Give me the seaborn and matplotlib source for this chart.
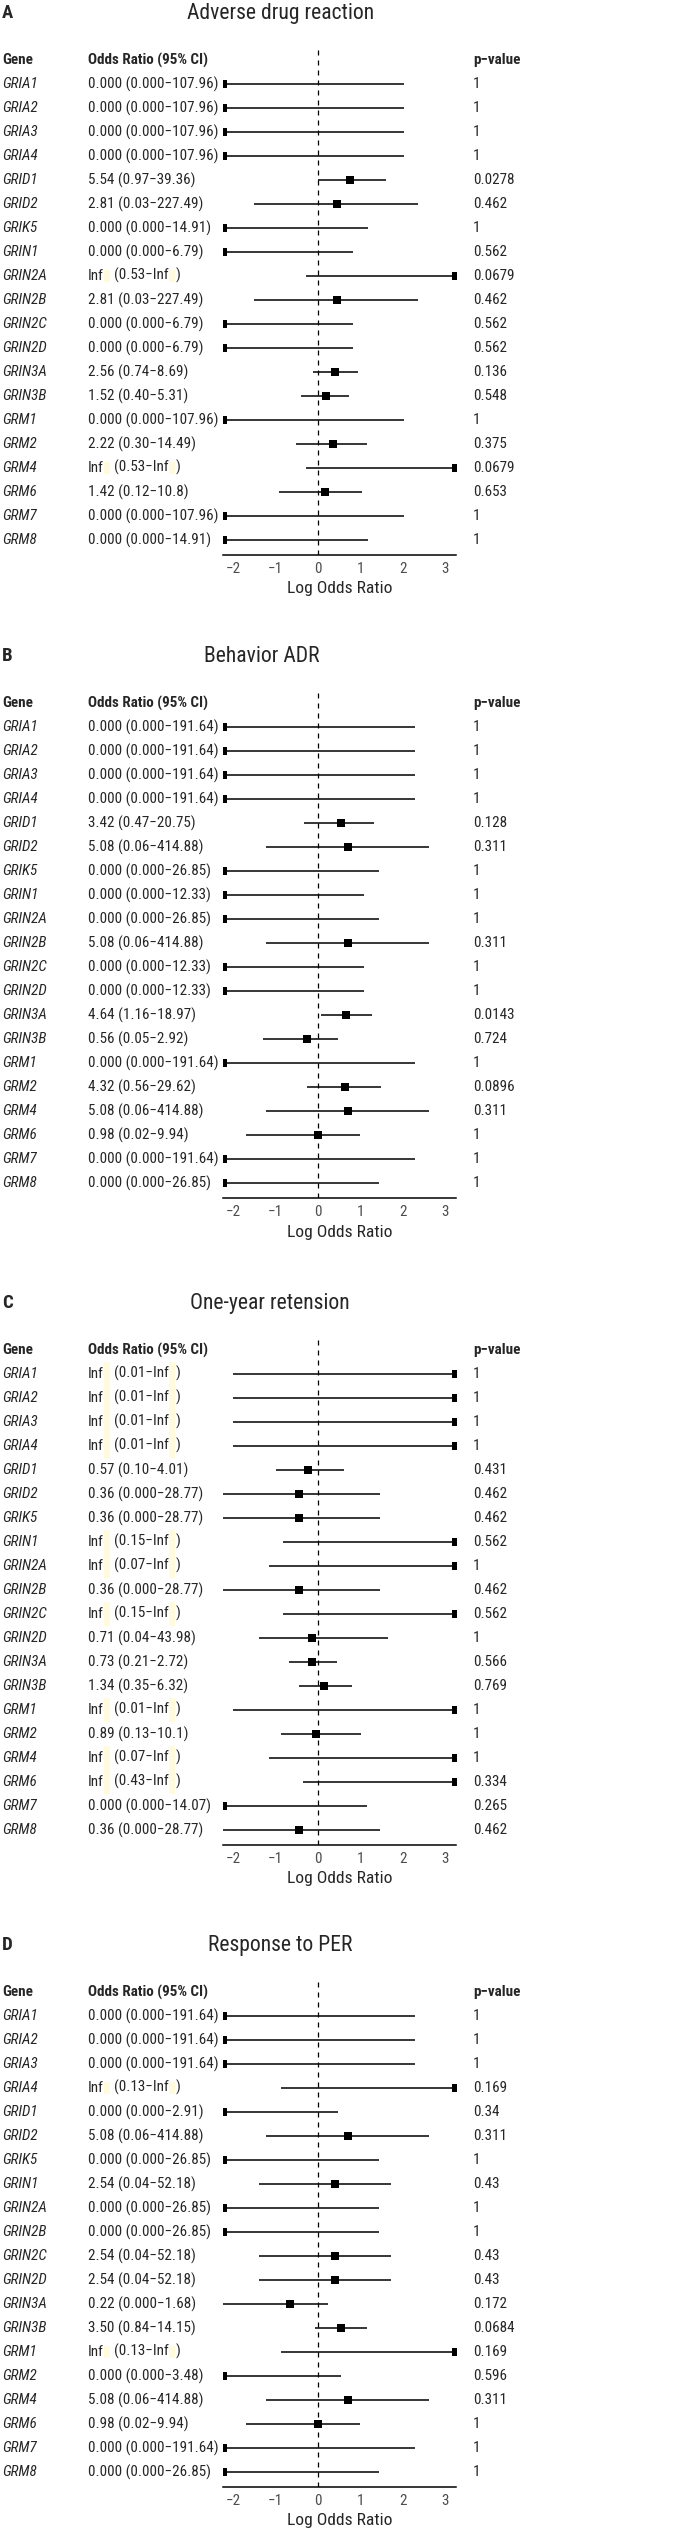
"""
Forest plots of glutamate receptor gene associations (four outcomes stacked).
"""

import matplotlib

matplotlib.use("Agg")
import matplotlib.pyplot as plt
import matplotlib.transforms as mtransforms
from matplotlib.patches import Rectangle
import numpy as np
import pandas as pd
import seaborn as sns


GENES = [
    "GRIA1", "GRIA2", "GRIA3", "GRIA4", "GRID1", "GRID2", "GRIK5", "GRIN1", "GRIN2A", "GRIN2B",
    "GRIN2C", "GRIN2D", "GRIN3A", "GRIN3B", "GRM1", "GRM2", "GRM4", "GRM6", "GRM7", "GRM8",
]

# A: adverse drug reaction
ADR_OR = ["0.000", "0.000", "0.000", "0.000", "5.54", "2.81", "0.000", "0.000", "Inf", "2.81",
          "0.000", "0.000", "2.56", "1.52", "0.000", "2.22", "Inf", "1.42", "0.000", "0.000"]
ADR_LOW = ["0.000", "0.000", "0.000", "0.000", "0.97", "0.03", "0.000", "0.000", "0.53", "0.03",
           "0.000", "0.000", "0.74", "0.40", "0.000", "0.30", "0.53", "0.12", "0.000", "0.000"]
ADR_HIGH = ["107.96", "107.96", "107.96", "107.96", "39.36", "227.49", "14.91", "6.79", "Inf", "227.49",
            "6.79", "6.79", "8.69", "5.31", "107.96", "14.49", "Inf", "10.8", "107.96", "14.91"]
ADR_P = ["1", "1", "1", "1", "0.0278", "0.462", "1", "0.562", "0.0679", "0.462",
         "0.562", "0.562", "0.136", "0.548", "1", "0.375", "0.0679", "0.653", "1", "1"]

# B: behavior ADR
BEH_OR = ["0.000", "0.000", "0.000", "0.000", "3.42", "5.08", "0.000", "0.000", "0.000", "5.08",
          "0.000", "0.000", "4.64", "0.56", "0.000", "4.32", "5.08", "0.98", "0.000", "0.000"]
BEH_LOW = ["0.000", "0.000", "0.000", "0.000", "0.47", "0.06", "0.000", "0.000", "0.000", "0.06",
           "0.000", "0.000", "1.16", "0.05", "0.000", "0.56", "0.06", "0.02", "0.000", "0.000"]
BEH_HIGH = ["191.64", "191.64", "191.64", "191.64", "20.75", "414.88", "26.85", "12.33", "26.85", "414.88",
            "12.33", "12.33", "18.97", "2.92", "191.64", "29.62", "414.88", "9.94", "191.64", "26.85"]
BEH_P = ["1", "1", "1", "1", "0.128", "0.311", "1", "1", "1", "0.311",
         "1", "1", "0.0143", "0.724", "1", "0.0896", "0.311", "1", "1", "1"]

# C: one-year retension
RET_OR = ["Inf", "Inf", "Inf", "Inf", "0.57", "0.36", "0.36", "Inf", "Inf", "0.36",
          "Inf", "0.71", "0.73", "1.34", "Inf", "0.89", "Inf", "Inf", "0.000", "0.36"]
RET_LOW = ["0.01", "0.01", "0.01", "0.01", "0.10", "0.000", "0.000", "0.15", "0.07", "0.000",
           "0.15", "0.04", "0.21", "0.35", "0.01", "0.13", "0.07", "0.43", "0.000", "0.000"]
RET_HIGH = ["Inf", "Inf", "Inf", "Inf", "4.01", "28.77", "28.77", "Inf", "Inf", "28.77",
            "Inf", "43.98", "2.72", "6.32", "Inf", "10.1", "Inf", "Inf", "14.07", "28.77"]
RET_P = ["1", "1", "1", "1", "0.431", "0.462", "0.462", "0.562", "1", "0.462",
         "0.562", "1", "0.566", "0.769", "1", "1", "1", "0.334", "0.265", "0.462"]

# D: response to PER
PER_OR = ["0.000", "0.000", "0.000", "Inf", "0.000", "5.08", "0.000", "2.54", "0.000", "0.000",
          "2.54", "2.54", "0.22", "3.50", "Inf", "0.000", "5.08", "0.98", "0.000", "0.000"]
PER_LOW = ["0.000", "0.000", "0.000", "0.13", "0.000", "0.06", "0.000", "0.04", "0.000", "0.000",
           "0.04", "0.04", "0.000", "0.84", "0.13", "0.000", "0.06", "0.02", "0.000", "0.000"]
PER_HIGH = ["191.64", "191.64", "191.64", "Inf", "2.91", "414.88", "26.85", "52.18", "26.85", "26.85",
            "52.18", "52.18", "1.68", "14.15", "Inf", "3.48", "414.88", "9.94", "191.64", "26.85"]
PER_P = ["1", "1", "1", "0.169", "0.34", "0.311", "1", "0.43", "1", "1",
         "0.43", "0.43", "0.172", "0.0684", "0.169", "0.596", "0.311", "1", "1", "1"]

PANELS = [
    ("A", "Adverse drug reaction", ADR_OR, ADR_LOW, ADR_HIGH, ADR_P),
    ("B", "Behavior ADR", BEH_OR, BEH_LOW, BEH_HIGH, BEH_P),
    ("C", "One-year retension", RET_OR, RET_LOW, RET_HIGH, RET_P),
    ("D", "Response to PER", PER_OR, PER_LOW, PER_HIGH, PER_P),
]

# layout, in pixels of the 676x2532 output
FIG_W, FIG_H = 676, 2532
HEADER_Y = [60, 703, 1350, 1992]
TITLE_X = [281, 262, 270, 280]
HILITE_H = [12, 12, 24, 12]
X_LEFT, X_RIGHT = 222.7, 456.0
XLIM = (-2.25, 3.25)
ROW = 24
GENE_X, OR_X, P_X = 2, 88, 473
HILITE_COLOR = "#fffbdc"

# condensed face: the source text is narrow and tall
FONT = "Roboto Condensed"
BODY = 10.9
TITLE = 15.6
LETTER = 13.5
XLAB = 12.6


def log_or(values):
    arr = np.array([float(v) for v in values])
    with np.errstate(divide="ignore"):
        out = np.log10(arr)
    return np.clip(out, *XLIM)


def draw_or_text(ax, blend, row, or_s, lo, hi, hilites, hl_h):
    """Write the OR (CI) string; Inf entries get the pale boxes seen in the source."""
    if or_s != "Inf":
        ax.text(OR_X / FIG_W, row, f"{or_s} ({lo}\u2212{hi})", transform=blend,
                ha="left", va="center", fontsize=BODY)
        return
    first = ax.text(OR_X / FIG_W, row, "Inf", transform=blend, ha="left", va="center", fontsize=BODY)
    second = ax.annotate(f"({lo}\u2212Inf", xy=(1, 0), xycoords=first, xytext=(10, 0),
                         textcoords="offset pixels", ha="left", va="bottom", fontsize=BODY)
    ax.annotate(")", xy=(1, 0), xycoords=second, xytext=(7, 0),
                textcoords="offset pixels", ha="left", va="bottom", fontsize=BODY)
    hilites.append((ax, first, row, hl_h))
    hilites.append((ax, second, row, hl_h))


def draw_panel(fig, idx, letter, title, ors, lows, highs, pvals, hilites):
    header = HEADER_Y[idx]
    top = header - 12
    bottom = header + ROW + (len(GENES) - 1) * ROW + 15
    ax = fig.add_axes([X_LEFT / FIG_W, 1 - bottom / FIG_H,
                       (X_RIGHT - X_LEFT) / FIG_W, (bottom - top) / FIG_H])

    df = pd.DataFrame({
        "row": np.arange(len(GENES)),
        "est": log_or(ors),
        "lo": log_or(lows),
        "hi": log_or(highs),
    })

    ax.axvline(0, color="black", lw=0.9, ls=(0, (4, 4)), zorder=1)
    ax.hlines(df["row"], df["lo"], df["hi"], color="black", lw=1.1, zorder=2)
    sns.scatterplot(data=df, x="est", y="row", marker="s", s=32, color="black",
                    linewidth=0, legend=False, ax=ax, zorder=3)

    ax.set_xlim(*XLIM)
    ax.set_ylim(len(GENES) - 1 + 15 / ROW, -1.5)
    ax.set_xticks(range(-2, 4))
    ax.set_yticks([])
    ax.set_xlabel("")
    ax.set_ylabel("")
    ax.tick_params(axis="x", length=3, width=0.8, color="#333333", pad=2,
                   labelsize=BODY, labelcolor="#4d4d4d")
    sns.despine(ax=ax, left=True, top=True, right=True)
    ax.spines["bottom"].set_linewidth(1.1)
    ax.spines["bottom"].set_color("black")
    ax.patch.set_alpha(0)

    blend = mtransforms.blended_transform_factory(fig.transFigure, ax.transData)
    ax.text(GENE_X / FIG_W, -1, "Gene", transform=blend, ha="left", va="center",
            fontsize=BODY, fontweight="bold")
    ax.text(OR_X / FIG_W, -1, "Odds Ratio (95% CI)", transform=blend, ha="left", va="center",
            fontsize=BODY, fontweight="bold")
    ax.text(P_X / FIG_W, -1, "p\u2212value", transform=blend, ha="left", va="center",
            fontsize=BODY, fontweight="bold")

    for i, gene in enumerate(GENES):
        ax.text(GENE_X / FIG_W, i, gene, transform=blend, ha="left", va="center",
                fontsize=BODY, fontstyle="italic")
        draw_or_text(ax, blend, i, ors[i], lows[i], highs[i], hilites, HILITE_H[idx])
        ax.text(P_X / FIG_W, i, pvals[i], transform=blend, ha="left", va="center", fontsize=BODY)

    xlab_row = len(GENES) - 1 + (15 + 34) / ROW
    ax.text(0.5, xlab_row, "Log Odds Ratio",
            transform=mtransforms.blended_transform_factory(ax.transAxes, ax.transData),
            ha="center", va="center", fontsize=XLAB)

    y_title = 1 - (header - 47) / FIG_H
    fig.text(GENE_X / FIG_W, y_title, letter, ha="left", va="center",
             fontsize=LETTER, fontweight="bold")
    fig.text(TITLE_X[idx] / FIG_W, y_title, title, ha="center", va="center", fontsize=TITLE)


def main() -> int:
    sns.set_theme(style="white")
    plt.rcParams["font.family"] = [FONT, "DejaVu Sans"]

    fig = plt.figure(figsize=(FIG_W / 100, FIG_H / 100), dpi=100)
    fig.patch.set_facecolor("white")

    hilites = []
    for idx, (letter, title, ors, lows, highs, pvals) in enumerate(PANELS):
        draw_panel(fig, idx, letter, title, ors, lows, highs, pvals, hilites)

    # boxes need the text extents, so draw once first
    fig.canvas.draw()
    for ax, text, row, hl_h in hilites:
        bb = text.get_window_extent()
        yc = ax.transData.transform((0, row))[1]
        ax.add_patch(Rectangle((bb.x1, yc - hl_h / 2), 6, hl_h, transform=mtransforms.IdentityTransform(),
                               facecolor=HILITE_COLOR, edgecolor="none", clip_on=False, zorder=0))

    fig.savefig("out.png", dpi=100)
    plt.close(fig)
    return 0


if __name__ == "__main__":
    raise SystemExit(main())
